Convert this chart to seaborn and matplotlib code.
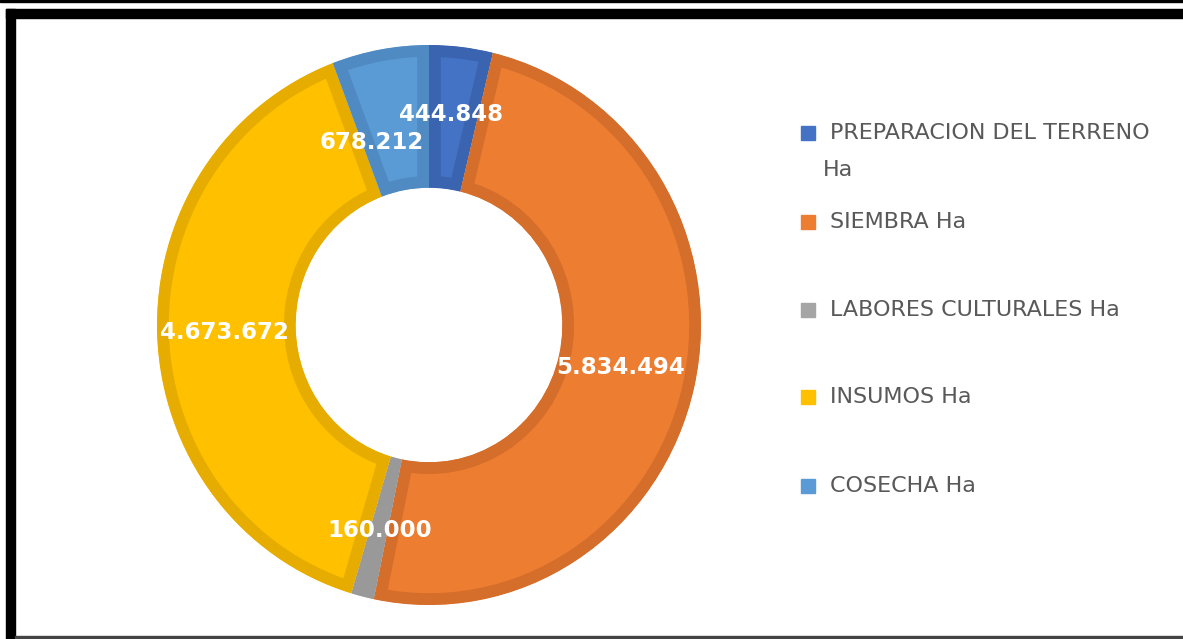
import matplotlib
matplotlib.use("Agg")
import matplotlib.pyplot as plt
import seaborn as sns
import numpy as np
from matplotlib.patches import Rectangle

# Datos del gráfico (hectáreas por actividad)
categorias = ["PREPARACION DEL TERRENO Ha", "SIEMBRA Ha", "LABORES CULTURALES Ha",
              "INSUMOS Ha", "COSECHA Ha"]
valores = [444848, 5834494, 160000, 4673672, 678212]

colores = ["#4472C4", "#ED7D31", "#A5A5A5", "#FFC000", "#5B9BD5"]
bordes = ["#3A64B0", "#D46E2A", "#999999", "#E6AD00", "#4F8BC2"]

sns.set_theme(style="white")
plt.rcParams['font.family'] = ['DejaVu Sans']

W, H = 1183, 639
fig = plt.figure(figsize=(W / 100, H / 100), dpi=100)


def px(x, y, w, h):
    # caja en pixeles (origen arriba a la izquierda) -> coordenadas de figura
    return [x / W, 1 - (y + h) / H, w / W, h / H]


# Marco negro del recorte
for (x, y, w, h, c) in [(0, 0, W, 1.5, "black"), (6, 9, W - 6, 9, "black"),
                        (6, 9, 9, H - 9, "black"), (15, 636, W - 15, 3, "#444444")]:
    fig.patches.append(Rectangle(px(x, y, w, h)[:2], w / W, h / H,
                                 transform=fig.transFigure, color=c, zorder=5))

# la dona esta un poco estirada en vertical en la imagen original
cx, cy, Rx, Ry = 429, 325, 272, 280
ax = fig.add_axes(px(cx - Rx, cy - Ry, 2 * Rx, 2 * Ry))
ancho = 0.51
wedges, _ = ax.pie(valores, colors=colores, startangle=90, counterclock=False,
                   radius=1, wedgeprops=dict(width=ancho))
for w, b in zip(wedges, bordes):
    w.set_edgecolor(b)
    w.set_linewidth(17)
    w.set_clip_path(w)
    w.set_clip_on(True)

ax.set_xlim(-1, 1)
ax.set_ylim(-1, 1)
ax.set_aspect("auto")
ax.axis("off")

# Etiquetas de datos
r_lab = 1 - ancho / 2
desplaz = [(-2, 3), (-6, 3), (0, -3), (-2, 0), (-21, -23)]
for w, v, d in zip(wedges, valores, desplaz):
    ang = np.deg2rad((w.theta1 + w.theta2) / 2)
    ax.annotate(f"{v:,}".replace(",", "."), (r_lab * np.cos(ang), r_lab * np.sin(ang)),
                xytext=d, textcoords="offset pixels", ha="center", va="center",
                color="white", fontsize=16.5, fontweight="bold")

# Leyenda
filas_y = [133, 222, 310, 397, 486]
for cat, col, y in zip(categorias, colores, filas_y):
    fig.patches.append(Rectangle(px(801, y - 7, 14, 14)[:2], 14 / W, 14 / H,
                                 transform=fig.transFigure, color=col))
    texto = cat
    if cat.startswith("PREPARACION"):
        texto = "PREPARACION DEL TERRENO"
        fig.text(823 / W, 1 - 170 / H, "Ha", ha="left", va="center",
                 fontsize=16, color="#595959")
    fig.text(830 / W, 1 - y / H, texto, ha="left", va="center",
             fontsize=16, color="#595959")

fig.savefig("out.png", dpi=100)
